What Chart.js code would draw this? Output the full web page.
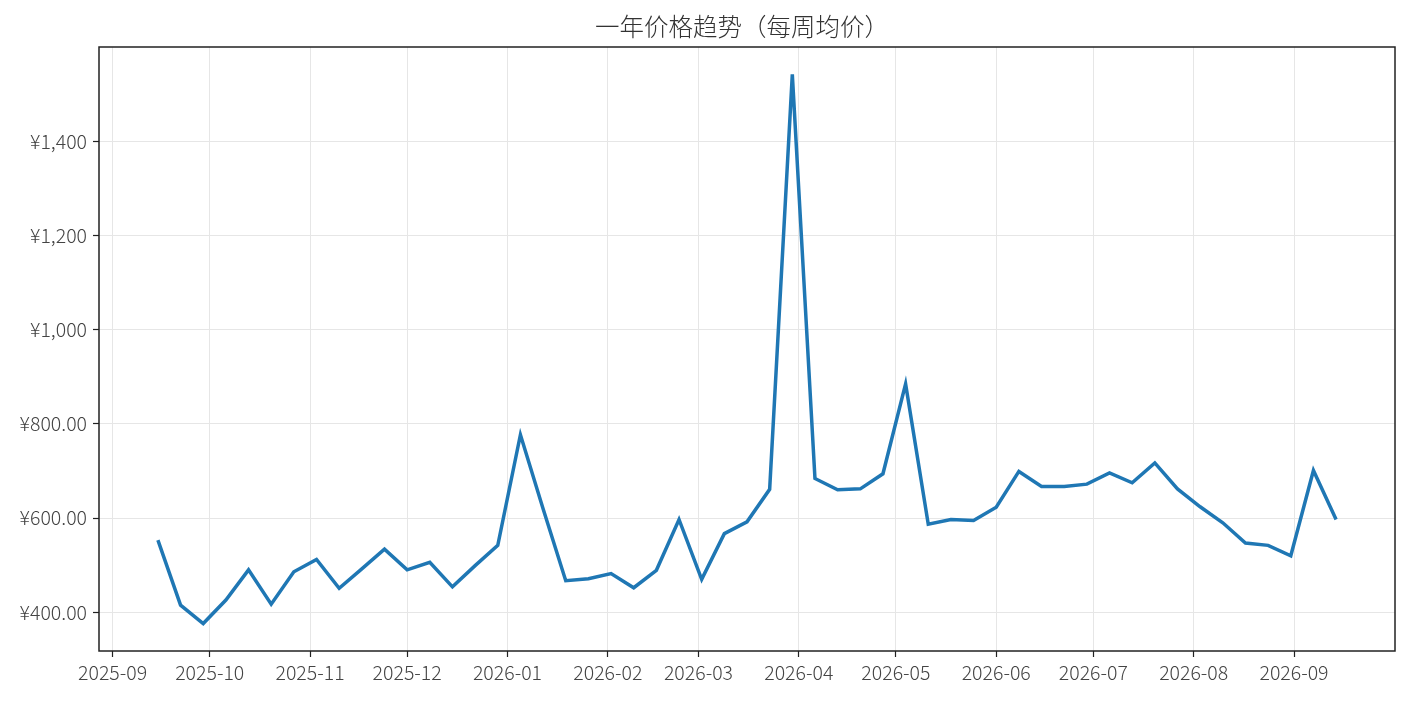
<!DOCTYPE html>
<html>
<head>
<meta charset="utf-8">
<script src="https://cdn.jsdelivr.net/npm/chart.js@4/dist/chart.umd.min.js"></script>
<style>
  html, body { margin: 0; padding: 0; background: #fff; }
  #wrap { width: 1410px; height: 704px; }
</style>
</head>
<body>
<div id="wrap"><canvas id="priceChart"></canvas></div>
<script>
// weekly average price, one point per Monday
const weeks = [
  "2025-09-15","2025-09-22","2025-09-29","2025-10-06","2025-10-13","2025-10-20","2025-10-27",
  "2025-11-03","2025-11-10","2025-11-17","2025-11-24","2025-12-01","2025-12-08","2025-12-15",
  "2025-12-22","2025-12-29","2026-01-05","2026-01-12","2026-01-19","2026-01-26","2026-02-02",
  "2026-02-09","2026-02-16","2026-02-23","2026-03-02","2026-03-09","2026-03-16","2026-03-23",
  "2026-03-30","2026-04-06","2026-04-13","2026-04-20","2026-04-27","2026-05-04","2026-05-11",
  "2026-05-18","2026-05-25","2026-06-01","2026-06-08","2026-06-15","2026-06-22","2026-06-29",
  "2026-07-06","2026-07-13","2026-07-20","2026-07-27","2026-08-03","2026-08-10","2026-08-17",
  "2026-08-24","2026-08-31","2026-09-07","2026-09-14"
];
const prices = [
  553, 415, 376, 426, 490, 417, 486,
  512, 451, 492, 534, 490, 506, 454,
  499, 542, 777, 620, 467, 471, 482,
  452, 489, 597, 470, 567, 592, 661,
  1542, 684, 660, 662, 694, 885, 587,
  597, 595, 623, 699, 667, 667, 672,
  696, 675, 717, 662, 624, 590, 547,
  542, 520, 701, 597
];

const monthTicks = ["2025-09","2025-10","2025-11","2025-12","2026-01","2026-02","2026-03",
                    "2026-04","2026-05","2026-06","2026-07","2026-08","2026-09"];
const yTicks      = [400, 600, 800, 1000, 1200, 1400];
const yTickLabels = ["¥400.00","¥600.00","¥800.00","¥1,000","¥1,200","¥1,400"];
const chartTitle  = "一年价格趋势（每周均价）";

const pts = weeks.map((d, i) => ({ x: Date.parse(d), y: prices[i] }));
const monthVals = monthTicks.map(m => Date.parse(m + "-01"));

// 5% margins like the original plot
const xFirst = pts[0].x, xLast = pts[pts.length - 1].x;
const xPad = (xLast - xFirst) * 0.05;
const yMin = Math.min(...prices), yMax = Math.max(...prices);
const yPad = (yMax - yMin) * 0.05;

const FONT = "'Noto Sans CJK SC Light', 'Noto Sans CJK SC', 'Noto Sans', sans-serif";

// frame round the plot area + title centred over it
const framePlugin = {
  id: "frame",
  afterDraw(chart) {
    const { ctx, chartArea: a } = chart;
    ctx.save();
    ctx.strokeStyle = "#222";
    ctx.lineWidth = 1.5;
    ctx.strokeRect(a.left, a.top, a.right - a.left, a.bottom - a.top);

    ctx.fillStyle = "#333";
    ctx.font = "300 24.5px " + FONT;
    ctx.textAlign = "center";
    ctx.textBaseline = "middle";
    ctx.fillText(chartTitle, (a.left + a.right) / 2 - 5, 27);
    ctx.restore();
  }
};

new Chart(document.getElementById("priceChart"), {
  type: "line",
  data: {
    datasets: [{
      data: pts,
      borderColor: "#1f77b4",
      borderWidth: 3.5,
      pointRadius: 0,
      tension: 0,
      fill: false
    }]
  },
  options: {
    responsive: true,
    maintainAspectRatio: false,
    animation: false,
    layout: { padding: { left: 0, right: 15, top: 47, bottom: 0 } },
    plugins: {
      legend: { display: false },
      tooltip: { enabled: false },
      title: { display: false }
    },
    scales: {
      x: {
        type: "linear",
        min: xFirst - xPad,
        max: xLast + xPad,
        afterBuildTicks: s => { s.ticks = monthVals.map(v => ({ value: v })); },
        afterFit: s => { s.height = 53; },
        border: { display: false },
        grid: { color: "#e6e6e6", lineWidth: 1, tickColor: "#222", tickLength: 6, tickWidth: 1.2 },
        ticks: {
          autoSkip: false,
          maxRotation: 0,
          padding: 4,
          color: "#444",
          font: { family: FONT, size: 19.5, weight: 300 },
          callback: v => monthTicks[monthVals.indexOf(v)] ?? ""
        }
      },
      y: {
        type: "linear",
        min: yMin - yPad,
        max: yMax + yPad,
        afterBuildTicks: s => { s.ticks = yTicks.map(v => ({ value: v })); },
        afterFit: s => { s.width = 99; },
        border: { display: false },
        grid: { color: "#e6e6e6", lineWidth: 1, tickColor: "#222", tickLength: 6, tickWidth: 1.2 },
        ticks: {
          padding: 6,
          color: "#444",
          font: { family: FONT, size: 19.5, weight: 300 },
          callback: v => yTickLabels[yTicks.indexOf(v)] ?? ""
        }
      }
    }
  },
  plugins: [framePlugin]
});
</script>
</body>
</html>
